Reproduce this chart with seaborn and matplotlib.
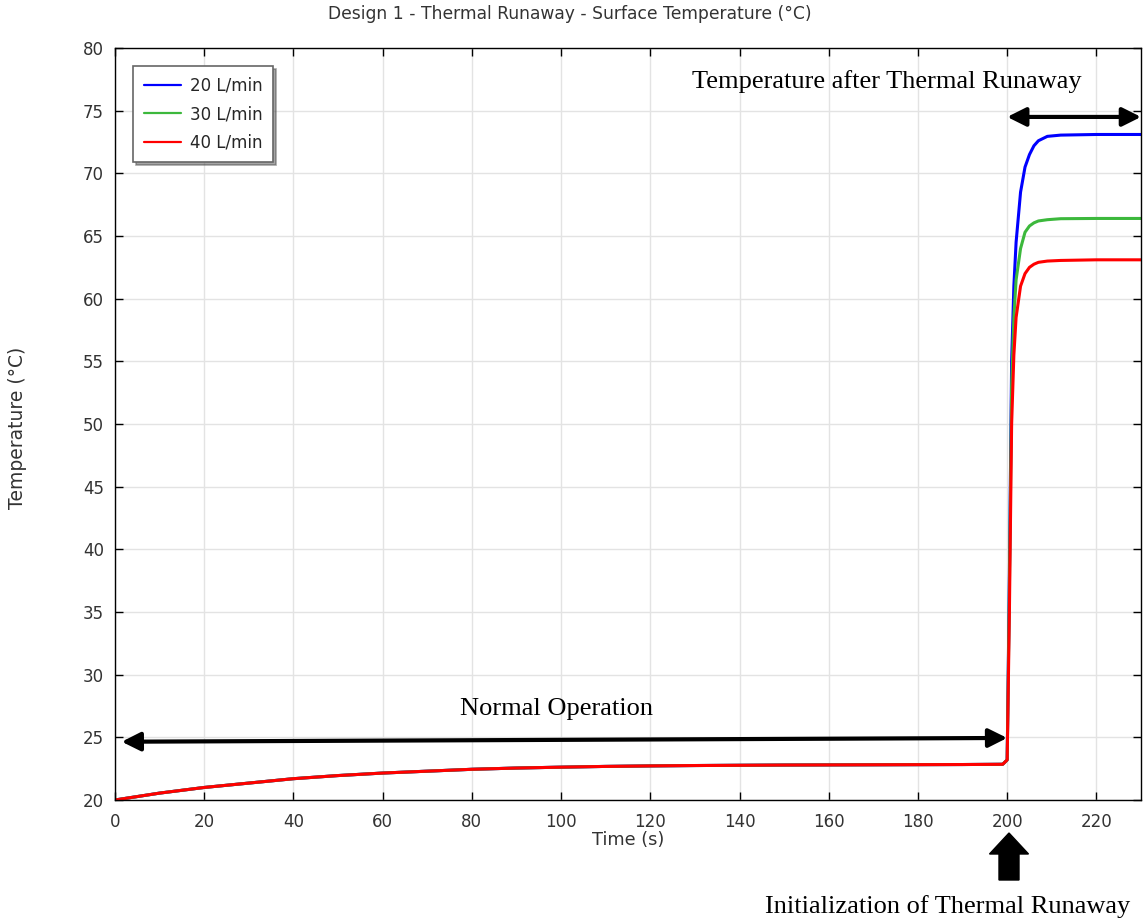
import numpy as np
import pandas as pd
import matplotlib
matplotlib.use("Agg")
import matplotlib.pyplot as plt
import seaborn as sns
from matplotlib.patches import FancyArrow

# ---- data ----
time_pre = [0, 10, 20, 30, 40, 50, 60, 70, 80, 90, 100, 110, 120, 130, 140,
            150, 160, 170, 180, 190, 199]
temp_pre = [20.0, 20.55, 21.0, 21.35, 21.7, 21.95, 22.15, 22.3, 22.45, 22.55,
            22.62, 22.68, 22.72, 22.75, 22.77, 22.79, 22.8, 22.81, 22.82,
            22.83, 22.85]
time_post = [200, 200.5, 201, 201.5, 202, 203, 204, 205, 206, 207, 209, 212, 220, 230]
temp_20 = [23.2, 38.0, 55.0, 61.0, 64.5, 68.5, 70.5, 71.5, 72.2, 72.6, 72.95, 73.05, 73.1, 73.1]
temp_30 = [23.2, 37.0, 53.0, 58.5, 61.5, 64.0, 65.3, 65.8, 66.05, 66.2, 66.3, 66.38, 66.4, 66.4]
temp_40 = [23.2, 35.0, 50.0, 55.5, 58.5, 61.0, 62.0, 62.5, 62.75, 62.9, 63.0, 63.05, 63.1, 63.1]
series_names = ["20 L/min", "30 L/min", "40 L/min"]
colors = ["#0000ff", "#3cb83c", "#ff0000"]

rows = []
for name, post in zip(series_names, [temp_20, temp_30, temp_40]):
    for t, v in zip(time_pre + time_post, temp_pre + post):
        rows.append({"Time (s)": t, "Temperature (°C)": v, "Flow": name})
df = pd.DataFrame(rows)

sns.set_theme(style="white")
plt.rcParams['font.family'] = ['DejaVu Sans']

fig = plt.figure(figsize=(11.46, 9.22), dpi=100)
ax = fig.add_axes([115/1146, 1 - 800/922, (1141-115)/1146, (800-48)/922])

sns.lineplot(data=df, x="Time (s)", y="Temperature (°C)", hue="Flow",
             palette=dict(zip(series_names, colors)), linewidth=2.2,
             sort=False, ax=ax)

ax.set_xlim(0, 230)
ax.set_ylim(20, 80)
ax.set_xticks(np.arange(0, 221, 20))
ax.set_yticks(np.arange(20, 81, 5))
ax.grid(True, color="#e3e3e3", linewidth=1)
ax.set_axisbelow(True)
for s in ax.spines.values():
    s.set_color("black")
    s.set_linewidth(1)
ax.tick_params(direction="in", length=6, width=1, colors="black",
               labelcolor="#333333", labelsize=12,
               top=True, right=True, bottom=True, left=True)
ax.tick_params(axis="x", pad=9)
ax.tick_params(axis="y", pad=8)
ax.set_xlabel("Time (s)", fontsize=12.8, color="#333333", va="center")
ax.xaxis.set_label_coords(0.5, -(840 - 800) / 752)
ax.set_ylabel("Temperature (°C)", fontsize=13.5, color="#333333", va="center")
ax.yaxis.set_label_coords((18 - 115) / 1026, (800 - 428) / 752)
fig.text(570/1146, 1 - 14/922,
         "Design 1 - Thermal Runaway - Surface Temperature (°C)",
         fontsize=12.3, color="#333333", ha="center", va="center")

leg = ax.legend(loc="upper left", bbox_to_anchor=((133-115)/1026, 1 - (66-48)/752),
                borderaxespad=0, frameon=True,
                fancybox=False, shadow=True, fontsize=12, handlelength=2.2,
                borderpad=0.65, labelspacing=0.62, handletextpad=0.55)
leg.get_frame().set_edgecolor("#666666")
leg.get_frame().set_linewidth(1.2)
for h in leg.get_lines():
    h.set_linewidth(1.6)

# ---- annotations ----
serif = "Liberation Serif"
ax.annotate("", xy=(1.5, 24.65), xytext=(200, 24.95),
            arrowprops=dict(arrowstyle="<|-|>", color="black", lw=3,
                            mutation_scale=28, shrinkA=0, shrinkB=0))
ax.annotate("", xy=(200, 74.5), xytext=(230, 74.5),
            arrowprops=dict(arrowstyle="<|-|>", color="black", lw=3,
                            mutation_scale=28, shrinkA=0, shrinkB=0),
            annotation_clip=False)
ax.text(99, 27.26, "Normal Operation", family=serif, fontsize=19,
        ha="center", va="center", color="black")
ax.text(173, 77.3, "Temperature after Thermal Runaway", family=serif,
        fontsize=19, ha="center", va="center", color="black")
fig.text(948/1146, 1 - 907/922, "Initialization of Thermal Runaway",
         family=serif, fontsize=19, ha="center", va="center", color="black")

# fat up arrow below the axis at t=200
arr = FancyArrow(1009/1146, 1 - 880/922, 0, 47/922, width=20/1146,
                 head_width=39/1146, head_length=21/922,
                 length_includes_head=True, transform=fig.transFigure,
                 color="black", clip_on=False)
fig.patches.append(arr)

fig.savefig("out.png", dpi=100)
